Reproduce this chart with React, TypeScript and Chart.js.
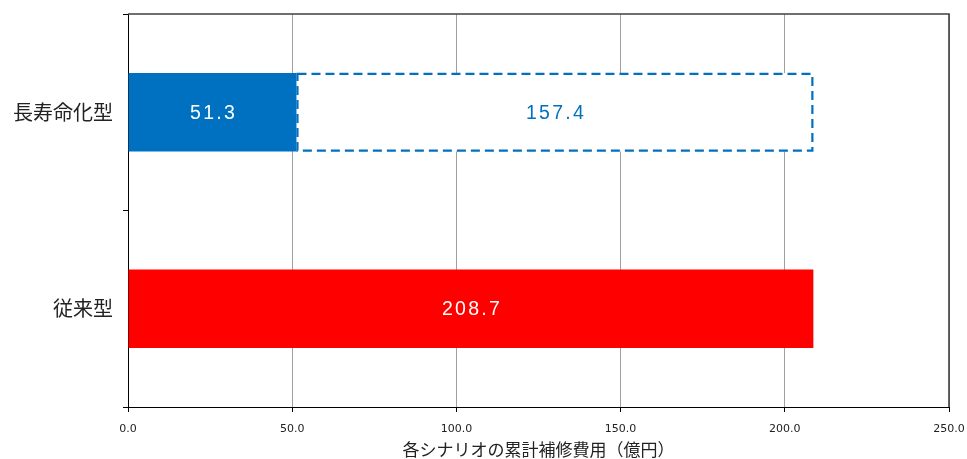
import React, { useEffect, useRef } from "react";
import { Chart, registerables } from "chart.js";

Chart.register(...registerables);

const categories = ["長寿命化型", "従来型"];
const spentValues = [51.3, 208.7];
const remainingValues = [157.4, 0];
const spentColors = ["#0070C0", "#FF0000"];
const xTicks = { min: 0, max: 250, step: 50 };
const axisTitle = "各シナリオの累計補修費用（億円）";

const dashedBarPlugin = {
  id: "dashedBar",
  afterDatasetsDraw(chart: any) {
    const ctx = chart.ctx;
    const meta = chart.getDatasetMeta(1);
    ctx.save();
    meta.data.forEach((el: any, i: number) => {
      const v = chart.data.datasets[1].data[i];
      if (!v) return;
      const p = el.getProps(["x", "y", "base", "height"], true);
      const left = Math.min(p.base, p.x);
      const right = Math.max(p.base, p.x);
      const top = p.y - p.height / 2;
      ctx.strokeStyle = "#0070C0";
      ctx.lineWidth = 2.2;
      ctx.setLineDash([9, 5]);
      ctx.strokeRect(left + 1, top + 1, right - left - 2, p.height - 2);
    });
    ctx.restore();
  },
};

const frameAndLabelsPlugin = {
  id: "frameAndLabels",
  afterDraw(chart: any) {
    const ctx = chart.ctx;
    const a = chart.chartArea;
    ctx.save();
    ctx.strokeStyle = "#404040";
    ctx.lineWidth = 1.6;
    ctx.setLineDash([]);
    ctx.beginPath();
    ctx.moveTo(a.left, a.top);
    ctx.lineTo(a.right, a.top);
    ctx.lineTo(a.right, a.bottom);
    ctx.stroke();

    ctx.font = '19.5px "Liberation Sans", Arial, sans-serif';
    (ctx as any).letterSpacing = "2.3px";
    ctx.textAlign = "center";
    ctx.textBaseline = "middle";
    chart.data.datasets.forEach((ds: any, di: number) => {
      const meta = chart.getDatasetMeta(di);
      meta.data.forEach((el: any, i: number) => {
        const v = ds.data[i];
        if (!v) return;
        const p = el.getProps(["x", "y", "base"], true);
        ctx.fillStyle = di === 0 ? "#FFFFFF" : "#0070C0";
        ctx.fillText(v.toFixed(1), (p.base + p.x) / 2 + 1.15, p.y + 1);
      });
    });
    ctx.restore();
  },
};

export default function App() {
  const ref = useRef<HTMLCanvasElement | null>(null);
  useEffect(() => {
    if (!ref.current) return;
    const chart = new Chart(ref.current, {
      type: "bar",
      data: {
        labels: categories,
        datasets: [
          {
            label: "spent",
            data: spentValues,
            backgroundColor: spentColors,
            borderWidth: 0,
            barPercentage: 0.5,
            categoryPercentage: 0.8,
          },
          {
            label: "remaining",
            data: remainingValues,
            backgroundColor: "rgba(255,255,255,1)",
            borderWidth: 0,
            barPercentage: 0.5,
            categoryPercentage: 0.8,
          },
        ],
      },
      options: {
        indexAxis: "y",
        animation: false,
        responsive: true,
        maintainAspectRatio: false,
        layout: { padding: { left: 0, top: 14, right: 18, bottom: 0 } },
        plugins: {
          legend: { display: false },
          tooltip: { enabled: false },
        },
        scales: {
          x: {
            stacked: true,
            min: xTicks.min,
            max: xTicks.max,
            afterFit: (s: any) => {
              s.height = 52;
              s.paddingLeft = 0;
              s.paddingRight = 0;
            },
            ticks: {
              stepSize: xTicks.step,
              color: "#222",
              font: { family: '"DejaVu Sans"', size: 11 },
              padding: 11,
              callback: (v: any) => Number(v).toFixed(1),
            },
            grid: {
              color: "#a0a0a0",
              tickColor: "#000",
              tickLength: 5,
              lineWidth: 1,
            },
            border: { color: "#000", width: 1 },
            title: {
              display: true,
              text: axisTitle,
              color: "#222",
              font: { family: '"Noto Sans CJK JP"', size: 17 },
              padding: { top: 0, bottom: -1 },
            },
          },
          y: {
            stacked: true,
            afterFit: (s: any) => {
              s.width = 128;
              s.paddingTop = 0;
              s.paddingBottom = 0;
            },
            ticks: {
              color: "#222",
              font: { family: '"Noto Sans CJK JP"', size: 20 },
              padding: 10,
            },
            grid: {
              drawOnChartArea: false,
              offset: true,
              tickColor: "#000",
              tickLength: 5,
            },
            border: { color: "#000", width: 1 },
          },
        },
      },
      plugins: [dashedBarPlugin, frameAndLabelsPlugin],
    } as any);
    return () => chart.destroy();
  }, []);

  return (
    <div style={{ position: "absolute", left: 0, top: 0, width: 967, height: 459, background: "#fff" }}>
      <canvas ref={ref} />
    </div>
  );
}
